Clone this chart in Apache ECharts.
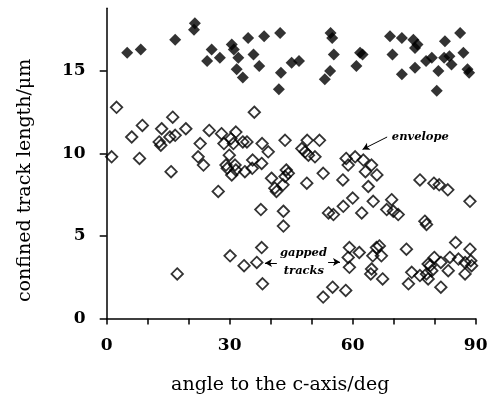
<!DOCTYPE html>
<html>
<head>
<meta charset="utf-8">
<script src="https://cdn.jsdelivr.net/npm/echarts@6/dist/echarts.min.js"></script>
<style>
html, body { margin: 0; padding: 0; background: #fff; }
#chart { width: 489px; height: 397px; }
</style>
</head>
<body>
<div id="chart"></div>
<script>
// filled diamonds: long tracks [angle, length]
var longTracks = [
	[5.0,16.1],[8.3,16.3],[16.7,16.9],[21.5,17.9],[21.3,17.5],[25.6,16.3],[24.5,15.6],
	[27.6,15.8],[30.5,16.6],[31.0,16.3],[32.1,15.8],[31.7,15.1],[33.2,14.6],[34.5,17.0],
	[35.8,16.0],[37.2,15.3],[38.4,17.1],[42.3,17.3],[42.5,14.9],[42.0,13.9],[45.1,15.5],
	[46.9,15.6],[54.6,17.3],[55.0,17.0],[55.4,16.0],[54.5,15.0],[53.2,14.5],[61.8,16.1],
	[62.4,16.0],[60.9,15.3],[69.1,17.1],[72.0,17.0],[69.7,16.0],[74.8,16.9],[75.2,16.4],
	[75.8,16.6],[72.0,14.8],[75.2,15.2],[77.9,15.6],[79.3,15.8],[80.9,15.0],[80.5,13.8],
	[82.5,16.8],[82.3,15.8],[83.6,15.9],[84.1,15.4],[86.2,17.3],[87.0,16.1],[88.0,15.1],
	[88.4,14.9]
];

// open diamonds: confined tracks [angle, length]
var confinedTracks = [
	[2.4,12.8],[1.2,9.8],[6.1,11.0],[8.7,11.7],[8.0,9.7],[13.4,11.5],[12.8,10.7],[13.2,10.5],
	[16.1,12.2],[15.4,11.0],[16.7,11.1],[15.7,8.9],[19.3,11.5],[22.8,10.6],[22.3,9.8],[23.6,9.3],
	[25.0,11.4],[27.2,7.7],[28.0,11.2],[28.6,10.6],[30.3,10.9],[31.5,11.3],[30.9,10.6],[33.2,10.7],
	[34.2,10.7],[29.9,9.9],[29.1,9.3],[29.4,9.1],[31.3,9.3],[31.5,9.0],[30.5,8.7],[33.7,8.9],
	[35.6,9.6],[35.5,9.1],[37.8,9.4],[36.0,12.5],[37.9,10.6],[39.4,10.1],[43.5,10.8],[40.2,8.5],
	[43.0,8.1],[41.0,7.9],[41.4,7.7],[37.6,6.6],[43.1,6.5],[43.8,9.0],[43.5,8.6],[44.3,8.8],
	[48.9,10.8],[51.9,10.8],[47.6,10.3],[48.4,10.1],[50.8,9.8],[49.2,9.9],[58.4,9.7],[60.6,9.8],
	[58.9,9.3],[62.6,9.6],[64.6,9.3],[63.1,8.9],[65.9,8.7],[48.8,8.2],[52.8,8.8],[57.6,8.4],
	[63.8,8.0],[76.4,8.4],[79.8,8.2],[81.1,8.1],[83.2,7.8],[88.6,7.1],[60.0,7.3],[57.7,6.8],
	[65.0,7.1],[69.5,7.2],[68.3,6.6],[69.9,6.5],[54.1,6.4],[55.3,6.3],[62.2,6.4],[71.1,6.3],
	[43.1,5.6],[77.6,5.9],[78.0,5.7],
	[59.2,4.3],[58.9,3.7],[59.2,3.1],[61.6,4.0],[65.8,4.3],[66.5,4.4],[64.9,3.8],[67.0,3.8],
	[64.6,3.0],[64.4,2.7],[67.3,2.4],[73.1,4.2],[52.8,1.3],[55.1,1.9],[58.3,1.7],[73.6,2.1],
	[74.4,2.8],[76.4,2.6],[78.0,2.7],[78.4,2.4],[78.4,3.3],[78.9,3.2],[79.9,3.7],[81.5,3.4],
	[81.5,1.9],[83.3,2.9],[83.7,3.7],[85.1,4.6],[85.8,3.6],[87.4,2.7],[88.6,4.2],[87.4,3.4],
	[88.8,3.5],[89.0,3.2],[79.3,2.9],
	[17.2,2.7],[30.1,3.8],[33.5,3.2],[36.6,3.4],[37.8,4.3],[38.0,2.1]
];

var xTicks = [0, 10, 20, 30, 40, 50, 60, 70, 80, 90];
var xTickLabels = [0, 30, 60, 90];
var yTickLabels = [0, 5, 10, 15];

// annotation anchors in data units
var envelopeArrow = [[68.4, 11.0], [62.4, 10.25]];
var gappedArrowLeft = [[41.5, 3.37], [38.6, 3.37]];
var gappedArrowRight = [[54.0, 3.43], [56.9, 3.43]];
var notes = [
	{ text: 'envelope', at: [76.5, 11.0] },
	{ text: 'gapped', at: [48.0, 3.97] },
	{ text: 'tracks', at: [48.1, 2.9] }
];

var serif = '"DejaVu Serif", "Liberation Serif", serif';

var myChart = echarts.init(document.getElementById('chart'), null, { renderer: 'canvas' });

var option = {
	animation: false,
	backgroundColor: '#fff',
	grid: {
		left: 106.7,
		right: 13.3,
		top: 8.3,
		bottom: 78.5,
		outerBoundsMode: 'none'
	},
	xAxis: {
		type: 'value',
		min: 0,
		max: 90,
		interval: 10,
		name: 'angle to the c-axis/deg',
		nameLocation: 'middle',
		nameGap: 57,
		nameTextStyle: {
			fontFamily: serif,
			fontSize: 19,
			color: '#000',
			padding: [0, 22, 0, 0]
		},
		axisLine: { lineStyle: { color: '#000', width: 1.5 } },
		axisTick: { show: true, length: 6, customValues: xTicks, lineStyle: { color: '#000', width: 1.5 } },
		axisLabel: {
			customValues: xTickLabels,
			margin: 19,
			fontFamily: serif,
			fontWeight: 'bold',
			fontSize: 17,
			color: '#000'
		},
		splitLine: { show: false }
	},
	yAxis: {
		type: 'value',
		min: 0,
		max: 18.8,
		offset: 10,
		name: 'confined track length/\u03bcm',
		nameLocation: 'middle',
		nameGap: 62,
		nameTextStyle: {
			fontFamily: serif,
			fontSize: 19,
			color: '#000',
			padding: [0, 34, 0, 0]
		},
		axisLine: { lineStyle: { color: '#000', width: 1.5 } },
		axisTick: { show: true, length: 7, customValues: yTickLabels, lineStyle: { color: '#000', width: 1.5 } },
		axisLabel: {
			customValues: yTickLabels,
			margin: 11,
			fontFamily: serif,
			fontWeight: 'bold',
			fontSize: 17,
			color: '#000'
		},
		splitLine: { show: false }
	},
	series: [
		{
			name: 'confined',
			type: 'scatter',
			symbol: 'diamond',
			symbolSize: 11.5,
			itemStyle: { color: 'rgba(0,0,0,0)', borderColor: '#000', borderWidth: 1.8 },
			data: confinedTracks,
			markLine: {
				silent: true,
				symbol: ['none', 'arrow'],
				symbolSize: [6, 7],
				lineStyle: { color: '#000', width: 1, type: 'solid' },
				label: { show: false },
				data: [
					[{ coord: envelopeArrow[0] }, { coord: envelopeArrow[1] }],
					[{ coord: gappedArrowLeft[0] }, { coord: gappedArrowLeft[1] }],
					[{ coord: gappedArrowRight[0] }, { coord: gappedArrowRight[1] }]
				]
			},
			markPoint: {
				silent: true,
				symbol: 'circle',
				symbolSize: 0,
				label: {
					show: true,
					position: 'inside',
					fontFamily: serif,
					fontStyle: 'italic',
					fontWeight: 'bold',
					fontSize: 11.5,
					color: '#000',
					formatter: function (p) { return p.name; }
				},
				data: notes.map(function (n) { return { name: n.text, coord: n.at }; })
			}
		},
		{
			name: 'long',
			type: 'scatter',
			symbol: 'diamond',
			symbolSize: 12,
			itemStyle: { color: '#000' },
			data: longTracks
		}
	]
};

myChart.setOption(option);
</script>
</body>
</html>
